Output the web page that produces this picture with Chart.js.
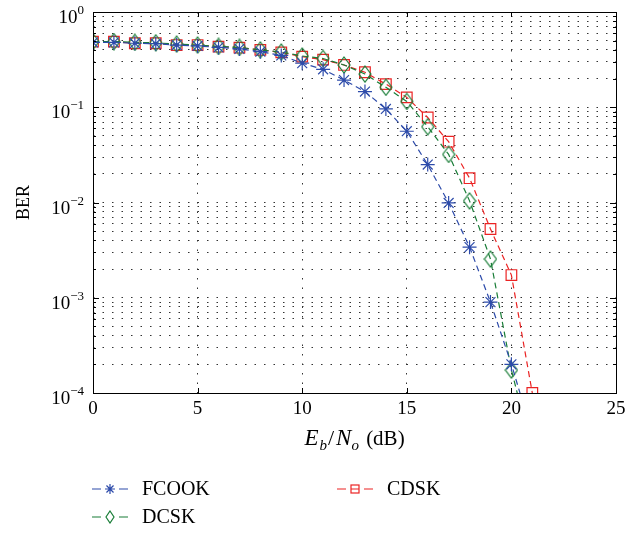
<!DOCTYPE html>
<html>
<head>
<meta charset="utf-8">
<script src="https://cdn.jsdelivr.net/npm/chart.js@4"></script>
<style>
  html, body { margin: 0; padding: 0; background: #fff; }
  #wrap { width: 643px; height: 533px; }
</style>
</head>
<body>
<div id="wrap"><canvas id="berChart" width="643" height="533"></canvas></div>
<script>
// Eb/No in dB
const ebno = [0, 1, 2, 3, 4, 5, 6, 7, 8, 9, 10, 11, 12, 13, 14, 15, 16, 17, 18, 19, 20, 21];
const fcookBer = [0.48, 0.48, 0.47, 0.465, 0.45, 0.44, 0.425, 0.41, 0.383, 0.35, 0.29, 0.25, 0.193, 0.146, 0.096, 0.056, 0.025, 0.0099, 0.0034, 0.0009, 0.0002, 0.000037];
const dcskBer = [0.49, 0.49, 0.48, 0.475, 0.46, 0.45, 0.435, 0.425, 0.4, 0.38, 0.345, 0.325, 0.278, 0.223, 0.162, 0.115, 0.0625, 0.032, 0.0104, 0.00255, 0.000174, 0.000024];
const cdskBer = [0.488, 0.488, 0.47, 0.47, 0.45, 0.45, 0.432, 0.422, 0.4, 0.377, 0.34, 0.316, 0.278, 0.233, 0.175, 0.127, 0.078, 0.0435, 0.018, 0.00527, 0.00173, 0.0001];
const xTicks = [0, 5, 10, 15, 20, 25];
const yDecades = [0, -1, -2, -3, -4];
const seriesNames = ["FCOOK", "DCSK", "CDSK"];

const BLUE = "rgb(45,75,170)";
const GREEN = "rgb(25,125,55)";
const RED = "rgb(235,35,35)";
const SERIF = "'Liberation Serif', 'DejaVu Serif', serif";

// tall open diamond like the matlab 'd' marker
function makeDiamond(w, h, color) {
    const c = document.createElement("canvas");
    c.width = w + 2; c.height = h + 2;
    const g = c.getContext("2d");
    g.strokeStyle = color;
    g.lineWidth = 1.2;
    g.beginPath();
    g.moveTo(c.width / 2, 1);
    g.lineTo(c.width - 1, c.height / 2);
    g.lineTo(c.width / 2, c.height - 1);
    g.lineTo(1, c.height / 2);
    g.closePath();
    g.stroke();
    return c;
}
const diamondBig = makeDiamond(12, 16, GREEN);
const diamondSmall = makeDiamond(8, 12, GREEN);

const toPoints = (ys) => ebno.map((x, i) => ({ x: x, y: ys[i] }));

const boxPlugin = {
    id: "matlabBox",
    afterDraw(chart) {
        const ctx = chart.ctx;
        const a = chart.chartArea;
        const xs = chart.scales.x;
        const ys = chart.scales.y;
        ctx.save();
        ctx.strokeStyle = "#000";
        ctx.lineWidth = 1;
        ctx.setLineDash([]);
        ctx.strokeRect(a.left + 0.5, a.top + 0.5, a.right - a.left, a.bottom - a.top);

        // inward tick marks
        ctx.beginPath();
        xTicks.forEach(v => {
            const px = Math.round(xs.getPixelForValue(v)) + 0.5;
            ctx.moveTo(px, a.bottom); ctx.lineTo(px, a.bottom - 5);
            ctx.moveTo(px, a.top); ctx.lineTo(px, a.top + 5);
        });
        for (let e = -4; e <= 0; e++) {
            for (let m = 1; m <= 9; m++) {
                const v = m * Math.pow(10, e);
                if (v > 1) break;
                const py = Math.round(ys.getPixelForValue(v)) + 0.5;
                const len = m === 1 ? 6 : 3;
                ctx.moveTo(a.left, py); ctx.lineTo(a.left + len, py);
                ctx.moveTo(a.right, py); ctx.lineTo(a.right - len, py);
            }
        }
        ctx.stroke();

        // y tick labels 10^k
        ctx.fillStyle = "#000";
        ctx.textBaseline = "alphabetic";
        yDecades.forEach(k => {
            const py = ys.getPixelForValue(Math.pow(10, k));
            const exp = k === 0 ? "0" : "\u2212" + (-k);
            ctx.font = "13px " + SERIF;
            const ew = ctx.measureText(exp).width;
            const right = 84;
            ctx.textAlign = "left";
            ctx.fillText(exp, right - ew, py + 2);
            ctx.font = "19px " + SERIF;
            ctx.textAlign = "right";
            ctx.fillText("10", right - ew, py + 11);
        });

        // y title
        ctx.save();
        ctx.translate(24, (a.top + a.bottom) / 2);
        ctx.rotate(-Math.PI / 2);
        ctx.font = "18px " + SERIF;
        ctx.textAlign = "center";
        ctx.textBaseline = "middle";
        ctx.fillText("BER", 0, 0);
        ctx.restore();

        // x title: E_b/N_o (dB)
        const parts = [
            { t: "E", f: "italic 23px " + SERIF, dy: 0, pad: 1 },
            { t: "b", f: "italic 15px " + SERIF, dy: 5, pad: 1 },
            { t: "/", f: "22px " + SERIF, dy: 0, pad: 2 },
            { t: "N", f: "italic 23px " + SERIF, dy: 0, pad: 0 },
            { t: "o", f: "italic 15px " + SERIF, dy: 5, pad: 2 },
            { t: " (dB)", f: "21px " + SERIF, dy: 0, pad: 0 }
        ];
        let total = 0;
        parts.forEach(p => { ctx.font = p.f; p.w = ctx.measureText(p.t).width + p.pad; total += p.w; });
        let cx = (a.left + a.right) / 2 - total / 2;
        const base = 445;
        ctx.textAlign = "left";
        parts.forEach(p => { ctx.font = p.f; ctx.fillText(p.t, cx, base + p.dy); cx += p.w; });

        // legend, two columns
        const legendPos = [
            { x: 92, y: 489 },
            { x: 92, y: 517 },
            { x: 337, y: 489 }
        ];
        chart.data.datasets.forEach((ds, i) => {
            const p = legendPos[i];
            ctx.strokeStyle = ds.borderColor;
            ctx.lineWidth = 1.2;
            ctx.setLineDash([]);
            ctx.beginPath();
            ctx.moveTo(p.x, p.y); ctx.lineTo(p.x + 9, p.y);
            ctx.moveTo(p.x + 27, p.y); ctx.lineTo(p.x + 36, p.y);
            if (i === 2) { ctx.moveTo(p.x + 14, p.y); ctx.lineTo(p.x + 22, p.y); }
            ctx.stroke();
            const mx = p.x + 18;
            if (i === 1) {
                ctx.drawImage(diamondSmall, mx - diamondSmall.width / 2, p.y - diamondSmall.height / 2);
            } else if (i === 0) {
                ctx.beginPath();
                const r = 5;
                for (let k = 0; k < 4; k++) {
                    const ang = k * Math.PI / 4;
                    ctx.moveTo(mx - r * Math.cos(ang), p.y - r * Math.sin(ang));
                    ctx.lineTo(mx + r * Math.cos(ang), p.y + r * Math.sin(ang));
                }
                ctx.stroke();
            } else {
                ctx.strokeRect(mx - 4, p.y - 4, 8, 8);
            }
            ctx.fillStyle = "#000";
            ctx.font = "20px " + SERIF;
            ctx.textAlign = "left";
            ctx.textBaseline = "middle";
            ctx.fillText(seriesNames[i], p.x + 50, p.y + 1);
        });
        ctx.restore();
    }
};

const common = {
    borderDash: [6, 4],
    borderWidth: 1.2,
    backgroundColor: "rgba(0,0,0,0)",
    pointBorderWidth: 1.2,
    tension: 0,
    fill: false
};

new Chart(document.getElementById("berChart").getContext("2d"), {
    type: "line",
    data: {
        datasets: [
            Object.assign({}, common, {
                label: seriesNames[0],
                data: toPoints(fcookBer),
                borderColor: BLUE,
                pointBorderColor: BLUE,
                pointStyle: "star",
                pointRadius: 7
            }),
            Object.assign({}, common, {
                label: seriesNames[1],
                data: toPoints(dcskBer),
                borderColor: GREEN,
                pointBorderColor: GREEN,
                pointStyle: diamondBig,
                pointRadius: 7
            }),
            Object.assign({}, common, {
                label: seriesNames[2],
                data: toPoints(cdskBer),
                borderColor: RED,
                pointBorderColor: RED,
                pointStyle: "rect",
                pointRadius: 7.5
            })
        ]
    },
    options: {
        responsive: false,
        animation: false,
        layout: { padding: { top: 12, right: 27, left: 0, bottom: 0 } },
        plugins: {
            legend: { display: false },
            tooltip: { enabled: false }
        },
        scales: {
            x: {
                type: "linear",
                min: 0,
                max: 25,
                ticks: {
                    stepSize: 5,
                    color: "#000",
                    padding: 5,
                    font: { family: SERIF, size: 19 }
                },
                grid: { color: "#333", lineWidth: 1, drawTicks: false },
                border: { display: false, dash: [1.5, 8] },
                afterFit: (scale) => { scale.height = 140; }
            },
            y: {
                type: "logarithmic",
                min: 1e-4,
                max: 1,
                ticks: { display: false },
                afterBuildTicks: (scale) => {
                    const t = [];
                    for (let e = -4; e <= 0; e++) {
                        for (let m = 1; m <= 9; m++) {
                            const v = m * Math.pow(10, e);
                            if (v > 1) break;
                            t.push({ value: v });
                        }
                    }
                    scale.ticks = t;
                },
                grid: { color: "#333", lineWidth: 1, drawTicks: false },
                border: { display: false, dash: [1.5, 8] },
                afterFit: (scale) => { scale.width = 93; }
            }
        }
    },
    plugins: [boxPlugin]
});
</script>
</body>
</html>
